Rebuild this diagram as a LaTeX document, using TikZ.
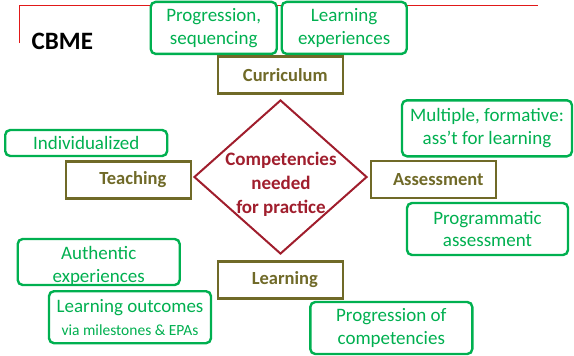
\documentclass[tikz,border=0pt]{standalone}
\usepackage{fontspec}
\setmainfont{Carlito}
\usepackage{tikz}
\usetikzlibrary{shapes.geometric}
\definecolor{leafgreen}{RGB}{0, 176, 80}
\definecolor{olivedrab}{RGB}{112, 106, 40}
\definecolor{winered}{RGB}{160, 30, 45}
\definecolor{rulered}{RGB}{225, 25, 25}
\tikzset{
    idea/.style={draw=leafgreen, line width=2.4pt, rounded corners=5pt, fill=white, text=leafgreen,
                 align=center, inner sep=0pt, font=\fontsize{19}{23}\selectfont},
    ideatext/.style={text=leafgreen, align=center, inner sep=0pt, font=\fontsize{19}{23}\selectfont},
    pillar/.style={draw=olivedrab, line width=2.2pt, fill=white, text=olivedrab, inner sep=0pt,
                   minimum width=125pt, minimum height=37pt, font=\fontsize{18.5}{22}\selectfont\bfseries},
    hub/.style={draw=winered, line width=2pt, shape=diamond, inner sep=0pt,
                minimum width=173pt, minimum height=154pt},
    hubtext/.style={text=winered, align=center, inner sep=0pt, font=\fontsize{19}{24}\selectfont\bfseries}
}

\begin{document}
\begin{tikzpicture}[x=1pt, y=-1pt]
        \useasboundingbox (0,0) rectangle (574,356);
        \draw[rulered, line width=1pt] (19.3,43) -- (19.3,5) -- (538,5);
        \node[anchor=base west, inner sep=0pt, font=\fontsize{25}{30}\selectfont\bfseries] (title) at (31.5,49) {CBME};

        \node[idea, minimum width=126pt, minimum height=52pt] (sequencing)  at (213.7, 27.9) {Progression,\\sequencing};
        \node[idea, minimum width=125pt, minimum height=52pt] (experiences) at (344.2, 27.9) {Learning\\experiences};
        \node[idea, minimum width=162pt, minimum height=26pt] (individual)  at ( 86.2,143.0) {Individualized};
        \node[idea, minimum width=170pt, minimum height=56pt] (formative)   at (487.0,128.3) {Multiple, formative:\\ass’t for learning};
        \node[idea, minimum width=161pt, minimum height=52pt] (programme)   at (487.5,229.0) {Programmatic\\assessment};
        \node[idea, minimum width=162pt, minimum height=46pt] (authentic)   at ( 98.7,262.0) {};
        \node[ideatext]                                       (authtext)    at ( 98.7,265.5) {Authentic\\experiences};
        \node[idea, minimum width=162pt, minimum height=52pt] (outcomes)    at (130.0,317.2)
             {Learning outcomes\\{\fontsize{15.5}{21}\selectfont via milestones \& EPAs}};
        \node[idea, minimum width=162pt, minimum height=52pt] (progress)    at (391.3,328.0) {Progression of\\competencies};

        \node[pillar] (curriculum) at (280.8, 75.0) {\hspace*{9pt}Curriculum};
        \node[pillar] (teaching)   at (128.3,180.0) {\hspace*{9pt}Teaching};
        \node[pillar] (assessment) at (433.8,179.7) {\hspace*{9pt}Assessment};
        \node[pillar] (learning)   at (280.3,280.0) {\hspace*{9pt}Learning};

        \node[hub]     (core)     at (280.5,177.0) {};
        \node[hubtext] (coretext) at (281.0,184.0) {Competencies\\needed\\for practice};
\end{tikzpicture}
\end{document}
